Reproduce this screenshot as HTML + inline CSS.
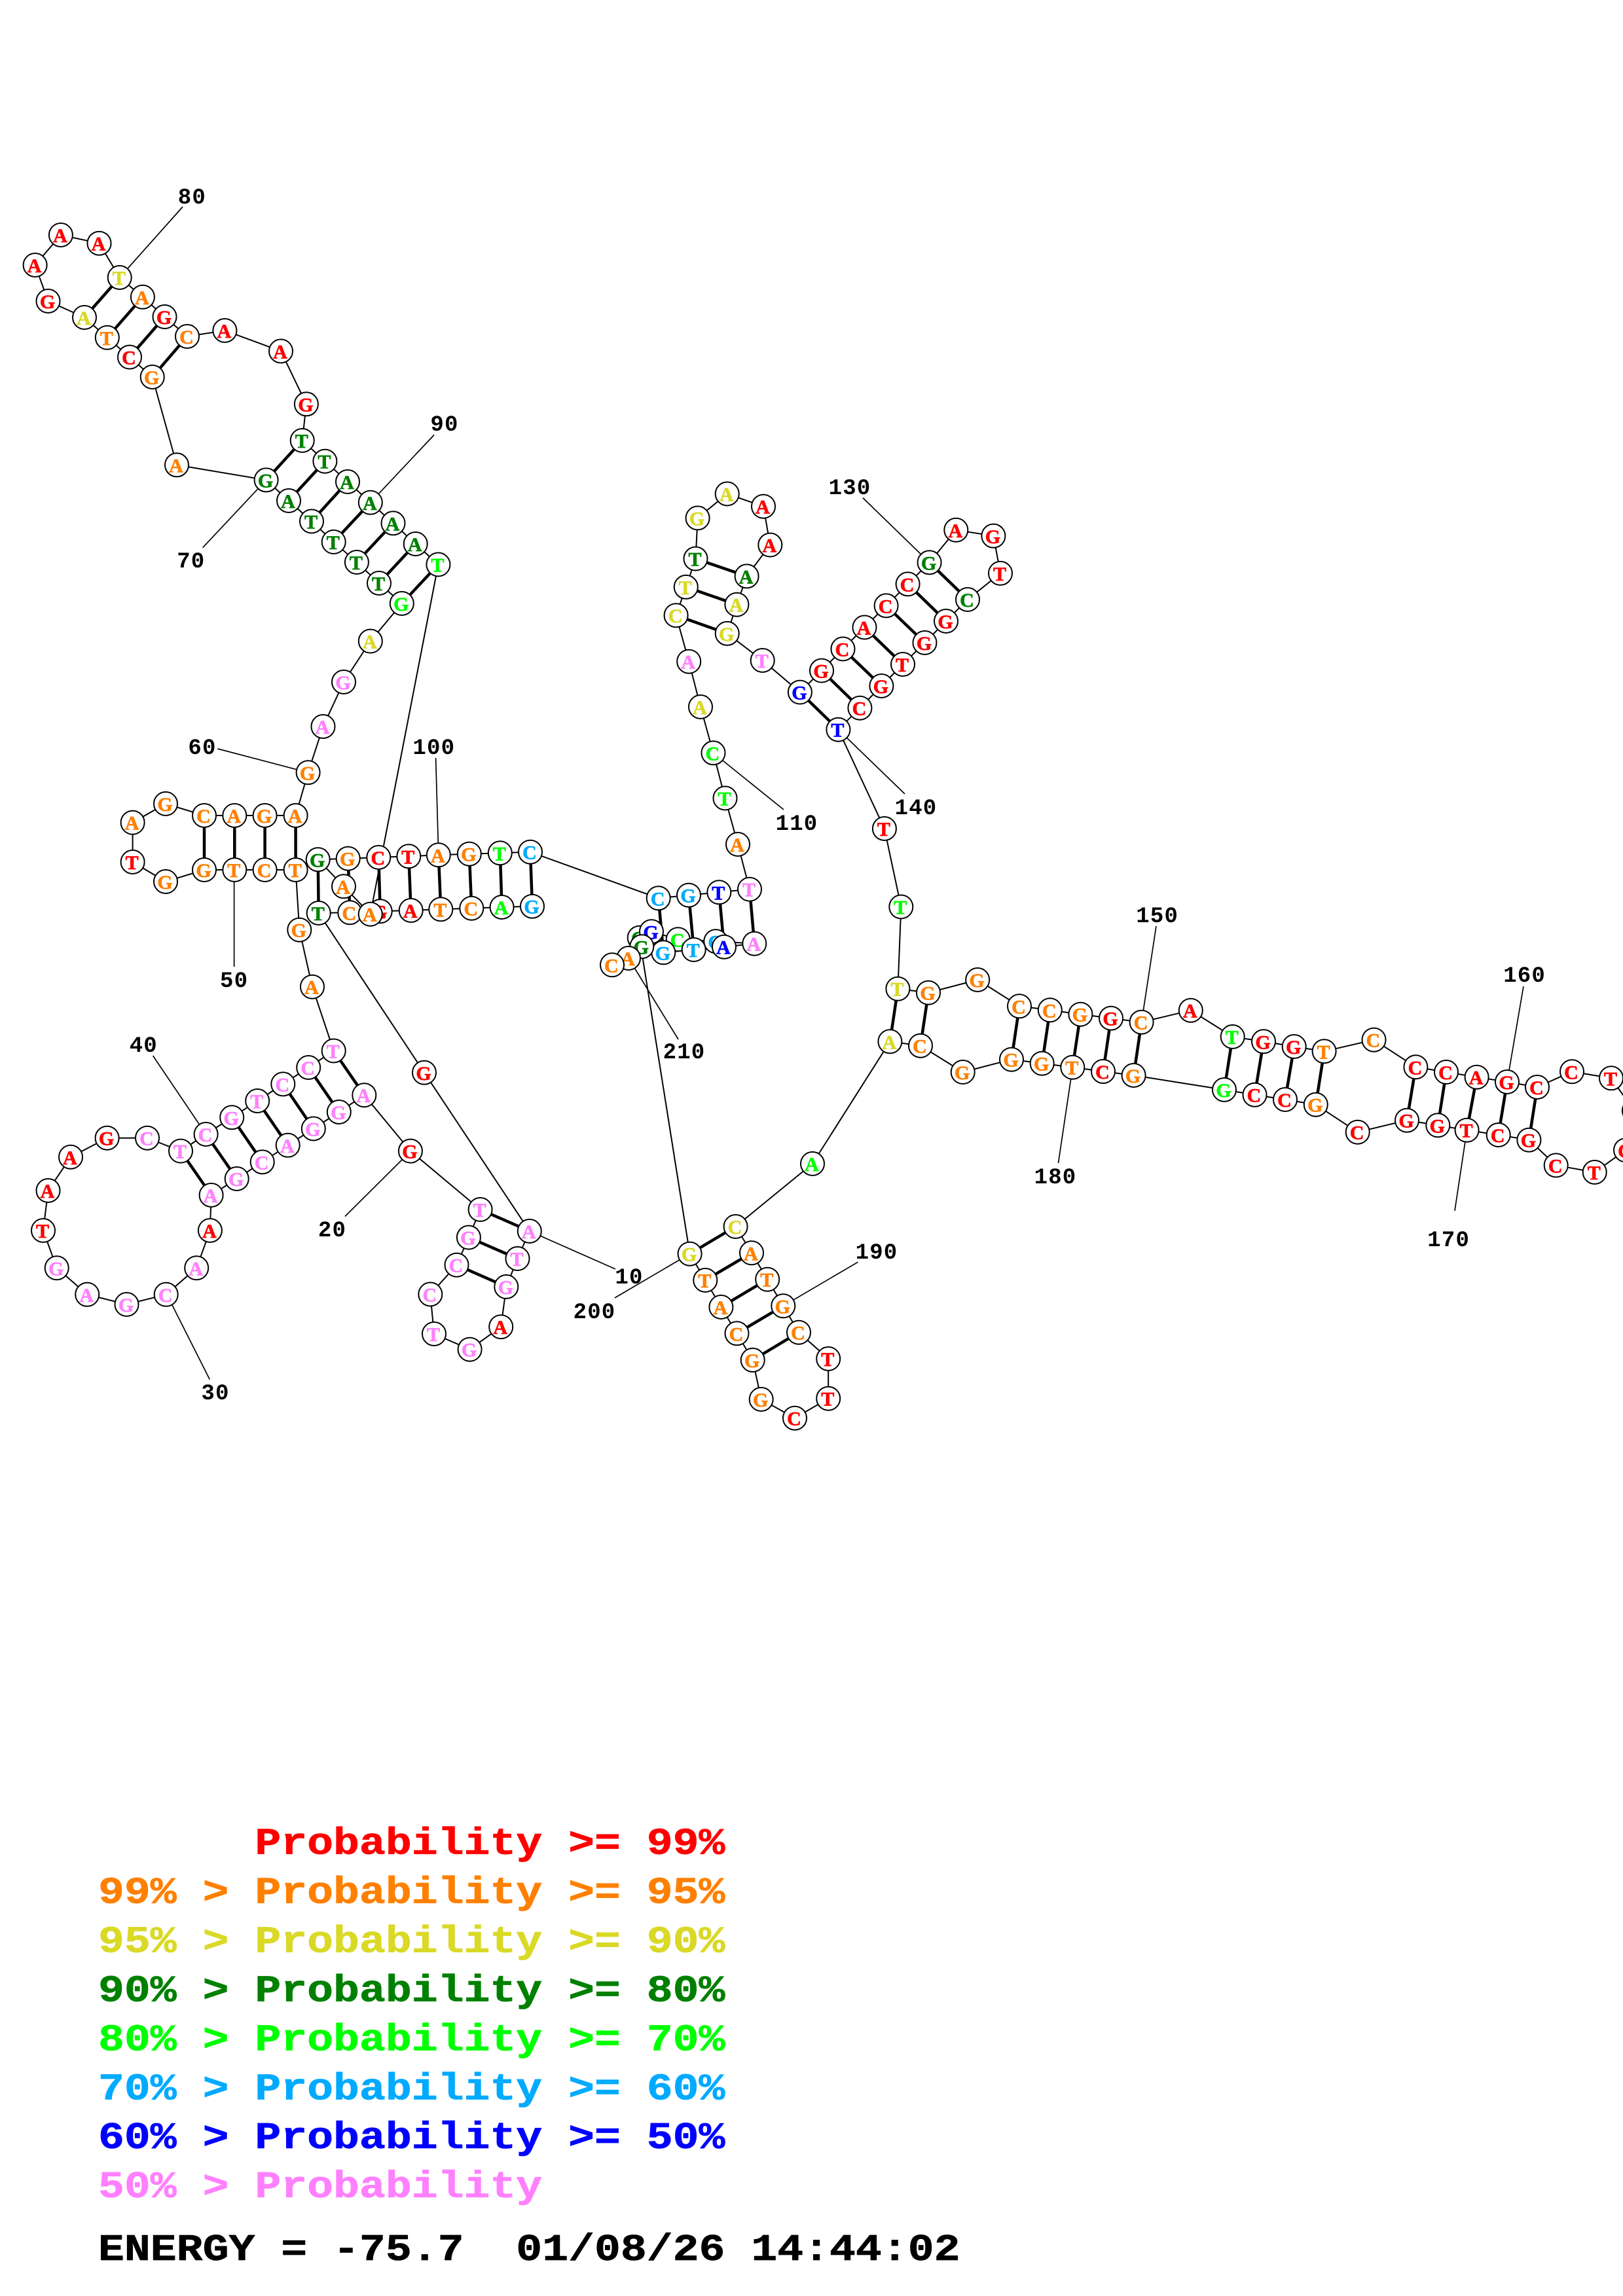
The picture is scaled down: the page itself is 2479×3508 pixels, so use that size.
<!DOCTYPE html>
<html><head><meta charset="utf-8"><style>
html,body{margin:0;padding:0;background:#fff}
svg{display:block}
.N circle{fill:#fff;stroke:#000;stroke-width:2}
.N text{font-family:"Liberation Serif",serif;font-weight:bold;font-size:30px;text-anchor:middle;stroke-width:.7px;transform:translate(-1px,11px)}
.r{fill:#f00;stroke:#f00}.o{fill:#ff8000;stroke:#ff8000}.y{fill:#d9d926;stroke:#d9d926}.d{fill:#008000;stroke:#008000}.g{fill:#0f0;stroke:#0f0}.l{fill:#00aaff;stroke:#00aaff}.b{fill:#00f;stroke:#00f}.p{fill:#ff80ff;stroke:#ff80ff}
.L text{font-family:"Liberation Mono",monospace;font-weight:bold;font-size:34px;letter-spacing:1.2px;text-anchor:middle;fill:#000}
.K text{font-family:"Liberation Mono",monospace;font-weight:bold;font-size:66.5px;white-space:pre;stroke-width:.8px}
</style></head><body>
<svg xmlns="http://www.w3.org/2000/svg" width="2479" height="3508" viewBox="0 0 2479 3508">
<rect width="2479" height="3508" fill="#fff"/>
<path fill="none" stroke="#000" stroke-width="4.5" d="M486.7 1395L485.7 1313.3M534.3 1394.3L531.7 1311.7M580.7 1392.3L578.3 1310M627.7 1391L624.3 1308.3M673.3 1389.3L669.8 1306.3M720.3 1387.7L716.8 1304.7M766.6 1386L763.8 1303.3M813 1384.7L810 1301.7M808.8 1881L733.6 1848M790.5 1923L715.9 1890.6M773.3 1966L697.5 1932.7M556.3 1673.2L509.7 1605.5M517.8 1699L471.2 1631M478.8 1724.5L432.3 1656.4M439.7 1749.8L393.2 1682M400.7 1775.4L354.2 1707.3M361.7 1801L314.6 1733M322.6 1826L276 1758.6M451.6 1329L451.6 1246M404.6 1329L404.6 1246M358.3 1329L358.3 1246M312 1329L312 1246M613.8 922L669.4 862.5M579 891L634.7 831M544.9 859L600.5 799.4M509.7 828L565.8 767.8M476 796.5L531 736M441 765L496.4 704.7M406.6 733.4L461.7 673M232.7 576L286 514M198 545.6L251.5 484M163.8 515.8L217.9 453.8M129 485L182.7 424M1005.7 1372.3L1013.3 1455.3M1052 1367.7L1059.7 1451M1098.3 1363.3L1106 1446.7M1145 1358.7L1152.3 1441.7M1032.6 940.2L1110.7 967.9M1047.8 896.9L1125.4 923.7M1062.5 853.6L1140.6 880.4M1221.9 1057.6L1280.4 1114.7M1255 1024.6L1313.4 1081.7M1287.5 991.5L1346.4 1048M1320.5 958.5L1379 1015M1353.6 925.4L1412.5 982M1386.6 892.4L1445 949M1419.6 859.4L1478 916M1371.4 1510.7L1359.4 1591.3M1418 1516.7L1406 1597.7M1557 1537.3L1545 1618.7M1603.8 1543.3L1591.7 1624.7M1650.4 1549.7L1638.3 1630.7M1697 1555.7L1685 1637M1743.6 1561.7L1731.6 1643M1882.7 1584L1870 1665M1930 1591.3L1916.5 1672.7M1976.7 1599L1963 1680M2022.6 1606.3L2009.8 1687.7M2162.4 1630.3L2149 1711.7M2209 1638L2196.3 1719.3M2255.6 1645.7L2240.6 1726.7M2302 1653L2288.7 1734M2348 1661L2335.4 1741.7M1123.6 1874L1053.6 1915.7M1148 1914.3L1077.3 1956M1172.2 1954.7L1101.4 1997M1196.3 1995.3L1125.5 2037.3M1220 2035.7L1149.7 2078"/>
<polyline fill="none" stroke="#000" stroke-width="2" points="813,1384.7 766.6,1386 720.3,1387.7 673.3,1389.3 627.7,1391 580.7,1392.3 534.3,1394.3 486.7,1395 648,1638.8 808.8,1881 790.5,1923 773.3,1966 765.2,2027.2 717.6,2061.7 663,2038 657.3,1977.5 697.5,1932.7 715.9,1890.6 733.6,1848 626.9,1758.6 556.3,1673.2 517.8,1699 478.8,1724.5 439.7,1749.8 400.7,1775.4 361.7,1801 322.6,1826 320.9,1880 300.2,1937.3 253.7,1977.8 193.5,1993 133.2,1977.8 86.7,1937.3 66,1880 73.5,1819 108,1767.8 163.6,1738.7 225,1738.7 276,1758.6 314.6,1733 354.2,1707.3 393.2,1682 432.3,1656.4 471.2,1631 509.7,1605.5 477,1507.7 457.3,1420.7 451.6,1329 404.6,1329 358.3,1329 312,1329 253,1347 202.6,1317 202.6,1256.7 253,1228 312,1246 358.3,1246 404.6,1246 451.6,1246 470.6,1180.3 493.5,1110 525,1042 565.8,979.6 613.8,922 579,891 544.9,859 509.7,828 476,796.5 441,765 406.6,733.4 270,710.4 232.7,576 198,545.6 163.8,515.8 129,485 73.5,460 53.6,405 92.9,359 151.5,371.7 182.7,424 217.9,453.8 251.5,484 286,514 343.4,505 429,536.5 467.9,617.4 461.7,673 496.4,704.7 531,736 565.8,767.8 600.5,799.4 634.7,831 669.4,862.5 565.7,1396.7 525,1354.3 485.7,1313.3 531.7,1311.7 578.3,1310 624.3,1308.3 669.8,1306.3 716.8,1304.7 763.8,1303.3 810,1301.7 1005.7,1372.3 1052,1367.7 1098.3,1363.3 1145,1358.7 1127,1290 1107.5,1219.5 1089.5,1150.4 1070,1080 1052.2,1010.7 1032.6,940.2 1047.8,896.9 1062.5,853.6 1065.6,791.5 1110.7,754.5 1166,773.7 1176.3,832.6 1140.6,880.4 1125.4,923.7 1110.7,967.9 1164.7,1009 1221.9,1057.6 1255,1024.6 1287.5,991.5 1320.5,958.5 1353.6,925.4 1386.6,892.4 1419.6,859.4 1460.3,809.8 1517.4,818.8 1528,875.9 1478,916 1445,949 1412.5,982 1379,1015 1346.4,1048 1313.4,1081.7 1280.4,1114.7 1350.9,1266 1376.3,1385.5 1371.4,1510.7 1418,1516.7 1493.2,1497 1557,1537.3 1603.8,1543.3 1650.4,1549.7 1697,1555.7 1743.6,1561.7 1818.8,1543.7 1882.7,1584 1930,1591.3 1976.7,1599 2022.6,1606.3 2098.5,1588.7 2162.4,1630.3 2209,1638 2255.6,1645.7 2302,1653 2348,1661 2401,1637.3 2461,1647.3 2496,1697 2483,1757.3 2435.7,1791 2376.7,1780.5 2335.4,1741.7 2288.7,1734 2240.6,1726.7 2196.3,1719.3 2149,1711.7 2073.7,1729.7 2009.8,1687.7 1963,1680 1916.5,1672.7 1870,1665 1731.6,1643 1685,1637 1638.3,1630.7 1591.7,1624.7 1545,1618.7 1470.7,1638 1406,1597.7 1359.4,1591.3 1241,1778 1123.6,1874 1148,1914.3 1172.2,1954.7 1196.3,1995.3 1220,2035.7 1265.2,2076 1265.2,2136.7 1214,2166.7 1162.7,2138 1149.7,2078 1125.5,2037.3 1101.4,1997 1077.3,1956 1053.6,1915.7 976.7,1432.7 995,1423.3 1035.7,1435.3 1093.3,1438.3 1152.3,1441.7 1106,1446.7 1059.7,1451 1013.3,1455.3 980.3,1446.3 960,1464 935,1474.3"/>
<path fill="none" stroke="#000" stroke-width="1.7" d="M940 1939L808.8 1881M614 1772L527 1858.5M263 1994L320.3 2107.6M233.6 1613L314.6 1733M357.6 1329L357.6 1477M332.4 1144L470.6 1180.3M406.6 733.4L309.7 836.7M279 316L182.7 424M663 664.5L565.8 767.8M665.6 1158L669.8 1306.3M1197 1237L1089.5 1150.4M1318 760.7L1419.6 859.4M1382 1213L1280.4 1114.7M1766 1415L1743.6 1561.7M2327 1507L2302 1653M2222 1850L2240.6 1726.7M1616.5 1777L1638.3 1630.7M1310.4 1928.3L1196.3 1995.3M939 1983L1053.6 1915.7M960 1464L1036 1588"/>
<g class="N">
<circle cx="813" cy="1384.7" r="18"/><text x="813" y="1384.7" class="l">G</text>
<circle cx="766.6" cy="1386" r="18"/><text x="766.6" y="1386" class="g">A</text>
<circle cx="720.3" cy="1387.7" r="18"/><text x="720.3" y="1387.7" class="o">C</text>
<circle cx="673.3" cy="1389.3" r="18"/><text x="673.3" y="1389.3" class="o">T</text>
<circle cx="627.7" cy="1391" r="18"/><text x="627.7" y="1391" class="r">A</text>
<circle cx="580.7" cy="1392.3" r="18"/><text x="580.7" y="1392.3" class="r">G</text>
<circle cx="534.3" cy="1394.3" r="18"/><text x="534.3" y="1394.3" class="o">C</text>
<circle cx="486.7" cy="1395" r="18"/><text x="486.7" y="1395" class="d">T</text>
<circle cx="648" cy="1638.8" r="18"/><text x="648" y="1638.8" class="r">G</text>
<circle cx="808.8" cy="1881" r="18"/><text x="808.8" y="1881" class="p">A</text>
<circle cx="790.5" cy="1923" r="18"/><text x="790.5" y="1923" class="p">T</text>
<circle cx="773.3" cy="1966" r="18"/><text x="773.3" y="1966" class="p">G</text>
<circle cx="765.2" cy="2027.2" r="18"/><text x="765.2" y="2027.2" class="r">A</text>
<circle cx="717.6" cy="2061.7" r="18"/><text x="717.6" y="2061.7" class="p">G</text>
<circle cx="663" cy="2038" r="18"/><text x="663" y="2038" class="p">T</text>
<circle cx="657.3" cy="1977.5" r="18"/><text x="657.3" y="1977.5" class="p">C</text>
<circle cx="697.5" cy="1932.7" r="18"/><text x="697.5" y="1932.7" class="p">C</text>
<circle cx="715.9" cy="1890.6" r="18"/><text x="715.9" y="1890.6" class="p">G</text>
<circle cx="733.6" cy="1848" r="18"/><text x="733.6" y="1848" class="p">T</text>
<circle cx="626.9" cy="1758.6" r="18"/><text x="626.9" y="1758.6" class="r">G</text>
<circle cx="556.3" cy="1673.2" r="18"/><text x="556.3" y="1673.2" class="p">A</text>
<circle cx="517.8" cy="1699" r="18"/><text x="517.8" y="1699" class="p">G</text>
<circle cx="478.8" cy="1724.5" r="18"/><text x="478.8" y="1724.5" class="p">G</text>
<circle cx="439.7" cy="1749.8" r="18"/><text x="439.7" y="1749.8" class="p">A</text>
<circle cx="400.7" cy="1775.4" r="18"/><text x="400.7" y="1775.4" class="p">C</text>
<circle cx="361.7" cy="1801" r="18"/><text x="361.7" y="1801" class="p">G</text>
<circle cx="322.6" cy="1826" r="18"/><text x="322.6" y="1826" class="p">A</text>
<circle cx="320.9" cy="1880" r="18"/><text x="320.9" y="1880" class="r">A</text>
<circle cx="300.2" cy="1937.3" r="18"/><text x="300.2" y="1937.3" class="p">A</text>
<circle cx="253.7" cy="1977.8" r="18"/><text x="253.7" y="1977.8" class="p">C</text>
<circle cx="193.5" cy="1993" r="18"/><text x="193.5" y="1993" class="p">G</text>
<circle cx="133.2" cy="1977.8" r="18"/><text x="133.2" y="1977.8" class="p">A</text>
<circle cx="86.7" cy="1937.3" r="18"/><text x="86.7" y="1937.3" class="p">G</text>
<circle cx="66" cy="1880" r="18"/><text x="66" y="1880" class="r">T</text>
<circle cx="73.5" cy="1819" r="18"/><text x="73.5" y="1819" class="r">A</text>
<circle cx="108" cy="1767.8" r="18"/><text x="108" y="1767.8" class="r">A</text>
<circle cx="163.6" cy="1738.7" r="18"/><text x="163.6" y="1738.7" class="r">G</text>
<circle cx="225" cy="1738.7" r="18"/><text x="225" y="1738.7" class="p">C</text>
<circle cx="276" cy="1758.6" r="18"/><text x="276" y="1758.6" class="p">T</text>
<circle cx="314.6" cy="1733" r="18"/><text x="314.6" y="1733" class="p">C</text>
<circle cx="354.2" cy="1707.3" r="18"/><text x="354.2" y="1707.3" class="p">G</text>
<circle cx="393.2" cy="1682" r="18"/><text x="393.2" y="1682" class="p">T</text>
<circle cx="432.3" cy="1656.4" r="18"/><text x="432.3" y="1656.4" class="p">C</text>
<circle cx="471.2" cy="1631" r="18"/><text x="471.2" y="1631" class="p">C</text>
<circle cx="509.7" cy="1605.5" r="18"/><text x="509.7" y="1605.5" class="p">T</text>
<circle cx="477" cy="1507.7" r="18"/><text x="477" y="1507.7" class="o">A</text>
<circle cx="457.3" cy="1420.7" r="18"/><text x="457.3" y="1420.7" class="o">G</text>
<circle cx="451.6" cy="1329" r="18"/><text x="451.6" y="1329" class="o">T</text>
<circle cx="404.6" cy="1329" r="18"/><text x="404.6" y="1329" class="o">C</text>
<circle cx="358.3" cy="1329" r="18"/><text x="358.3" y="1329" class="o">T</text>
<circle cx="312" cy="1329" r="18"/><text x="312" y="1329" class="o">G</text>
<circle cx="253" cy="1347" r="18"/><text x="253" y="1347" class="o">G</text>
<circle cx="202.6" cy="1317" r="18"/><text x="202.6" y="1317" class="r">T</text>
<circle cx="202.6" cy="1256.7" r="18"/><text x="202.6" y="1256.7" class="o">A</text>
<circle cx="253" cy="1228" r="18"/><text x="253" y="1228" class="o">G</text>
<circle cx="312" cy="1246" r="18"/><text x="312" y="1246" class="o">C</text>
<circle cx="358.3" cy="1246" r="18"/><text x="358.3" y="1246" class="o">A</text>
<circle cx="404.6" cy="1246" r="18"/><text x="404.6" y="1246" class="o">G</text>
<circle cx="451.6" cy="1246" r="18"/><text x="451.6" y="1246" class="o">A</text>
<circle cx="470.6" cy="1180.3" r="18"/><text x="470.6" y="1180.3" class="o">G</text>
<circle cx="493.5" cy="1110" r="18"/><text x="493.5" y="1110" class="p">A</text>
<circle cx="525" cy="1042" r="18"/><text x="525" y="1042" class="p">G</text>
<circle cx="565.8" cy="979.6" r="18"/><text x="565.8" y="979.6" class="y">A</text>
<circle cx="613.8" cy="922" r="18"/><text x="613.8" y="922" class="g">G</text>
<circle cx="579" cy="891" r="18"/><text x="579" y="891" class="d">T</text>
<circle cx="544.9" cy="859" r="18"/><text x="544.9" y="859" class="d">T</text>
<circle cx="509.7" cy="828" r="18"/><text x="509.7" y="828" class="d">T</text>
<circle cx="476" cy="796.5" r="18"/><text x="476" y="796.5" class="d">T</text>
<circle cx="441" cy="765" r="18"/><text x="441" y="765" class="d">A</text>
<circle cx="406.6" cy="733.4" r="18"/><text x="406.6" y="733.4" class="d">G</text>
<circle cx="270" cy="710.4" r="18"/><text x="270" y="710.4" class="o">A</text>
<circle cx="232.7" cy="576" r="18"/><text x="232.7" y="576" class="o">G</text>
<circle cx="198" cy="545.6" r="18"/><text x="198" y="545.6" class="r">C</text>
<circle cx="163.8" cy="515.8" r="18"/><text x="163.8" y="515.8" class="o">T</text>
<circle cx="129" cy="485" r="18"/><text x="129" y="485" class="y">A</text>
<circle cx="73.5" cy="460" r="18"/><text x="73.5" y="460" class="r">G</text>
<circle cx="53.6" cy="405" r="18"/><text x="53.6" y="405" class="r">A</text>
<circle cx="92.9" cy="359" r="18"/><text x="92.9" y="359" class="r">A</text>
<circle cx="151.5" cy="371.7" r="18"/><text x="151.5" y="371.7" class="r">A</text>
<circle cx="182.7" cy="424" r="18"/><text x="182.7" y="424" class="y">T</text>
<circle cx="217.9" cy="453.8" r="18"/><text x="217.9" y="453.8" class="o">A</text>
<circle cx="251.5" cy="484" r="18"/><text x="251.5" y="484" class="r">G</text>
<circle cx="286" cy="514" r="18"/><text x="286" y="514" class="o">C</text>
<circle cx="343.4" cy="505" r="18"/><text x="343.4" y="505" class="r">A</text>
<circle cx="429" cy="536.5" r="18"/><text x="429" y="536.5" class="r">A</text>
<circle cx="467.9" cy="617.4" r="18"/><text x="467.9" y="617.4" class="r">G</text>
<circle cx="461.7" cy="673" r="18"/><text x="461.7" y="673" class="d">T</text>
<circle cx="496.4" cy="704.7" r="18"/><text x="496.4" y="704.7" class="d">T</text>
<circle cx="531" cy="736" r="18"/><text x="531" y="736" class="d">A</text>
<circle cx="565.8" cy="767.8" r="18"/><text x="565.8" y="767.8" class="d">A</text>
<circle cx="600.5" cy="799.4" r="18"/><text x="600.5" y="799.4" class="d">A</text>
<circle cx="634.7" cy="831" r="18"/><text x="634.7" y="831" class="d">A</text>
<circle cx="669.4" cy="862.5" r="18"/><text x="669.4" y="862.5" class="g">T</text>
<circle cx="565.7" cy="1396.7" r="18"/><text x="565.7" y="1396.7" class="o">A</text>
<circle cx="525" cy="1354.3" r="18"/><text x="525" y="1354.3" class="o">A</text>
<circle cx="485.7" cy="1313.3" r="18"/><text x="485.7" y="1313.3" class="d">G</text>
<circle cx="531.7" cy="1311.7" r="18"/><text x="531.7" y="1311.7" class="o">G</text>
<circle cx="578.3" cy="1310" r="18"/><text x="578.3" y="1310" class="r">C</text>
<circle cx="624.3" cy="1308.3" r="18"/><text x="624.3" y="1308.3" class="r">T</text>
<circle cx="669.8" cy="1306.3" r="18"/><text x="669.8" y="1306.3" class="o">A</text>
<circle cx="716.8" cy="1304.7" r="18"/><text x="716.8" y="1304.7" class="o">G</text>
<circle cx="763.8" cy="1303.3" r="18"/><text x="763.8" y="1303.3" class="g">T</text>
<circle cx="810" cy="1301.7" r="18"/><text x="810" y="1301.7" class="l">C</text>
<circle cx="1005.7" cy="1372.3" r="18"/><text x="1005.7" y="1372.3" class="l">C</text>
<circle cx="1052" cy="1367.7" r="18"/><text x="1052" y="1367.7" class="l">G</text>
<circle cx="1098.3" cy="1363.3" r="18"/><text x="1098.3" y="1363.3" class="b">T</text>
<circle cx="1145" cy="1358.7" r="18"/><text x="1145" y="1358.7" class="p">T</text>
<circle cx="1127" cy="1290" r="18"/><text x="1127" y="1290" class="o">A</text>
<circle cx="1107.5" cy="1219.5" r="18"/><text x="1107.5" y="1219.5" class="g">T</text>
<circle cx="1089.5" cy="1150.4" r="18"/><text x="1089.5" y="1150.4" class="g">C</text>
<circle cx="1070" cy="1080" r="18"/><text x="1070" y="1080" class="y">A</text>
<circle cx="1052.2" cy="1010.7" r="18"/><text x="1052.2" y="1010.7" class="p">A</text>
<circle cx="1032.6" cy="940.2" r="18"/><text x="1032.6" y="940.2" class="y">C</text>
<circle cx="1047.8" cy="896.9" r="18"/><text x="1047.8" y="896.9" class="y">T</text>
<circle cx="1062.5" cy="853.6" r="18"/><text x="1062.5" y="853.6" class="d">T</text>
<circle cx="1065.6" cy="791.5" r="18"/><text x="1065.6" y="791.5" class="y">G</text>
<circle cx="1110.7" cy="754.5" r="18"/><text x="1110.7" y="754.5" class="y">A</text>
<circle cx="1166" cy="773.7" r="18"/><text x="1166" y="773.7" class="r">A</text>
<circle cx="1176.3" cy="832.6" r="18"/><text x="1176.3" y="832.6" class="r">A</text>
<circle cx="1140.6" cy="880.4" r="18"/><text x="1140.6" y="880.4" class="d">A</text>
<circle cx="1125.4" cy="923.7" r="18"/><text x="1125.4" y="923.7" class="y">A</text>
<circle cx="1110.7" cy="967.9" r="18"/><text x="1110.7" y="967.9" class="y">G</text>
<circle cx="1164.7" cy="1009" r="18"/><text x="1164.7" y="1009" class="p">T</text>
<circle cx="1221.9" cy="1057.6" r="18"/><text x="1221.9" y="1057.6" class="b">G</text>
<circle cx="1255" cy="1024.6" r="18"/><text x="1255" y="1024.6" class="r">G</text>
<circle cx="1287.5" cy="991.5" r="18"/><text x="1287.5" y="991.5" class="r">C</text>
<circle cx="1320.5" cy="958.5" r="18"/><text x="1320.5" y="958.5" class="r">A</text>
<circle cx="1353.6" cy="925.4" r="18"/><text x="1353.6" y="925.4" class="r">C</text>
<circle cx="1386.6" cy="892.4" r="18"/><text x="1386.6" y="892.4" class="r">C</text>
<circle cx="1419.6" cy="859.4" r="18"/><text x="1419.6" y="859.4" class="d">G</text>
<circle cx="1460.3" cy="809.8" r="18"/><text x="1460.3" y="809.8" class="r">A</text>
<circle cx="1517.4" cy="818.8" r="18"/><text x="1517.4" y="818.8" class="r">G</text>
<circle cx="1528" cy="875.9" r="18"/><text x="1528" y="875.9" class="r">T</text>
<circle cx="1478" cy="916" r="18"/><text x="1478" y="916" class="d">C</text>
<circle cx="1445" cy="949" r="18"/><text x="1445" y="949" class="r">G</text>
<circle cx="1412.5" cy="982" r="18"/><text x="1412.5" y="982" class="r">G</text>
<circle cx="1379" cy="1015" r="18"/><text x="1379" y="1015" class="r">T</text>
<circle cx="1346.4" cy="1048" r="18"/><text x="1346.4" y="1048" class="r">G</text>
<circle cx="1313.4" cy="1081.7" r="18"/><text x="1313.4" y="1081.7" class="r">C</text>
<circle cx="1280.4" cy="1114.7" r="18"/><text x="1280.4" y="1114.7" class="b">T</text>
<circle cx="1350.9" cy="1266" r="18"/><text x="1350.9" y="1266" class="r">T</text>
<circle cx="1376.3" cy="1385.5" r="18"/><text x="1376.3" y="1385.5" class="g">T</text>
<circle cx="1371.4" cy="1510.7" r="18"/><text x="1371.4" y="1510.7" class="y">T</text>
<circle cx="1418" cy="1516.7" r="18"/><text x="1418" y="1516.7" class="o">G</text>
<circle cx="1493.2" cy="1497" r="18"/><text x="1493.2" y="1497" class="o">G</text>
<circle cx="1557" cy="1537.3" r="18"/><text x="1557" y="1537.3" class="o">C</text>
<circle cx="1603.8" cy="1543.3" r="18"/><text x="1603.8" y="1543.3" class="o">C</text>
<circle cx="1650.4" cy="1549.7" r="18"/><text x="1650.4" y="1549.7" class="o">G</text>
<circle cx="1697" cy="1555.7" r="18"/><text x="1697" y="1555.7" class="r">G</text>
<circle cx="1743.6" cy="1561.7" r="18"/><text x="1743.6" y="1561.7" class="o">C</text>
<circle cx="1818.8" cy="1543.7" r="18"/><text x="1818.8" y="1543.7" class="r">A</text>
<circle cx="1882.7" cy="1584" r="18"/><text x="1882.7" y="1584" class="g">T</text>
<circle cx="1930" cy="1591.3" r="18"/><text x="1930" y="1591.3" class="r">G</text>
<circle cx="1976.7" cy="1599" r="18"/><text x="1976.7" y="1599" class="r">G</text>
<circle cx="2022.6" cy="1606.3" r="18"/><text x="2022.6" y="1606.3" class="o">T</text>
<circle cx="2098.5" cy="1588.7" r="18"/><text x="2098.5" y="1588.7" class="o">C</text>
<circle cx="2162.4" cy="1630.3" r="18"/><text x="2162.4" y="1630.3" class="r">C</text>
<circle cx="2209" cy="1638" r="18"/><text x="2209" y="1638" class="r">C</text>
<circle cx="2255.6" cy="1645.7" r="18"/><text x="2255.6" y="1645.7" class="r">A</text>
<circle cx="2302" cy="1653" r="18"/><text x="2302" y="1653" class="r">G</text>
<circle cx="2348" cy="1661" r="18"/><text x="2348" y="1661" class="r">C</text>
<circle cx="2401" cy="1637.3" r="18"/><text x="2401" y="1637.3" class="r">C</text>
<circle cx="2461" cy="1647.3" r="18"/><text x="2461" y="1647.3" class="r">T</text>
<circle cx="2496" cy="1697" r="18"/><text x="2496" y="1697" class="r">G</text>
<circle cx="2483" cy="1757.3" r="18"/><text x="2483" y="1757.3" class="r">C</text>
<circle cx="2435.7" cy="1791" r="18"/><text x="2435.7" y="1791" class="r">T</text>
<circle cx="2376.7" cy="1780.5" r="18"/><text x="2376.7" y="1780.5" class="r">C</text>
<circle cx="2335.4" cy="1741.7" r="18"/><text x="2335.4" y="1741.7" class="r">G</text>
<circle cx="2288.7" cy="1734" r="18"/><text x="2288.7" y="1734" class="r">C</text>
<circle cx="2240.6" cy="1726.7" r="18"/><text x="2240.6" y="1726.7" class="r">T</text>
<circle cx="2196.3" cy="1719.3" r="18"/><text x="2196.3" y="1719.3" class="r">G</text>
<circle cx="2149" cy="1711.7" r="18"/><text x="2149" y="1711.7" class="r">G</text>
<circle cx="2073.7" cy="1729.7" r="18"/><text x="2073.7" y="1729.7" class="r">C</text>
<circle cx="2009.8" cy="1687.7" r="18"/><text x="2009.8" y="1687.7" class="o">G</text>
<circle cx="1963" cy="1680" r="18"/><text x="1963" y="1680" class="r">C</text>
<circle cx="1916.5" cy="1672.7" r="18"/><text x="1916.5" y="1672.7" class="r">C</text>
<circle cx="1870" cy="1665" r="18"/><text x="1870" y="1665" class="g">G</text>
<circle cx="1731.6" cy="1643" r="18"/><text x="1731.6" y="1643" class="o">G</text>
<circle cx="1685" cy="1637" r="18"/><text x="1685" y="1637" class="r">C</text>
<circle cx="1638.3" cy="1630.7" r="18"/><text x="1638.3" y="1630.7" class="o">T</text>
<circle cx="1591.7" cy="1624.7" r="18"/><text x="1591.7" y="1624.7" class="o">G</text>
<circle cx="1545" cy="1618.7" r="18"/><text x="1545" y="1618.7" class="o">G</text>
<circle cx="1470.7" cy="1638" r="18"/><text x="1470.7" y="1638" class="o">G</text>
<circle cx="1406" cy="1597.7" r="18"/><text x="1406" y="1597.7" class="o">C</text>
<circle cx="1359.4" cy="1591.3" r="18"/><text x="1359.4" y="1591.3" class="y">A</text>
<circle cx="1241" cy="1778" r="18"/><text x="1241" y="1778" class="g">A</text>
<circle cx="1123.6" cy="1874" r="18"/><text x="1123.6" y="1874" class="y">C</text>
<circle cx="1148" cy="1914.3" r="18"/><text x="1148" y="1914.3" class="o">A</text>
<circle cx="1172.2" cy="1954.7" r="18"/><text x="1172.2" y="1954.7" class="o">T</text>
<circle cx="1196.3" cy="1995.3" r="18"/><text x="1196.3" y="1995.3" class="o">G</text>
<circle cx="1220" cy="2035.7" r="18"/><text x="1220" y="2035.7" class="o">C</text>
<circle cx="1265.2" cy="2076" r="18"/><text x="1265.2" y="2076" class="r">T</text>
<circle cx="1265.2" cy="2136.7" r="18"/><text x="1265.2" y="2136.7" class="r">T</text>
<circle cx="1214" cy="2166.7" r="18"/><text x="1214" y="2166.7" class="r">C</text>
<circle cx="1162.7" cy="2138" r="18"/><text x="1162.7" y="2138" class="o">G</text>
<circle cx="1149.7" cy="2078" r="18"/><text x="1149.7" y="2078" class="o">G</text>
<circle cx="1125.5" cy="2037.3" r="18"/><text x="1125.5" y="2037.3" class="o">C</text>
<circle cx="1101.4" cy="1997" r="18"/><text x="1101.4" y="1997" class="o">A</text>
<circle cx="1077.3" cy="1956" r="18"/><text x="1077.3" y="1956" class="o">T</text>
<circle cx="1053.6" cy="1915.7" r="18"/><text x="1053.6" y="1915.7" class="y">G</text>
<circle cx="976.7" cy="1432.7" r="18"/><text x="976.7" y="1432.7" class="d">G</text>
<circle cx="995" cy="1423.3" r="18"/><text x="995" y="1423.3" class="b">G</text>
<circle cx="1035.7" cy="1435.3" r="18"/><text x="1035.7" y="1435.3" class="g">C</text>
<circle cx="1093.3" cy="1438.3" r="18"/><text x="1093.3" y="1438.3" class="l">C</text>
<circle cx="1152.3" cy="1441.7" r="18"/><text x="1152.3" y="1441.7" class="p">A</text>
<circle cx="1106" cy="1446.7" r="18"/><text x="1106" y="1446.7" class="b">A</text>
<circle cx="1059.7" cy="1451" r="18"/><text x="1059.7" y="1451" class="l">T</text>
<circle cx="1013.3" cy="1455.3" r="18"/><text x="1013.3" y="1455.3" class="l">G</text>
<circle cx="980.3" cy="1446.3" r="18"/><text x="980.3" y="1446.3" class="d">G</text>
<circle cx="960" cy="1464" r="18"/><text x="960" y="1464" class="o">A</text>
<circle cx="935" cy="1474.3" r="18"/><text x="935" y="1474.3" class="o">C</text>
</g>
<g class="L">
<text x="961" y="1961">10</text>
<text x="507.5" y="1889">20</text>
<text x="329" y="2138">30</text>
<text x="219.3" y="1607">40</text>
<text x="357.6" y="1508">50</text>
<text x="309" y="1152">60</text>
<text x="291.8" y="867">70</text>
<text x="293.4" y="311">80</text>
<text x="679" y="658">90</text>
<text x="662.8" y="1152">100</text>
<text x="1217" y="1268">110</text>
<text x="1298" y="755">130</text>
<text x="1399" y="1244">140</text>
<text x="1767.7" y="1409">150</text>
<text x="2328.6" y="1500">160</text>
<text x="2212.7" y="1904">170</text>
<text x="1612" y="1808">180</text>
<text x="1339" y="1923">190</text>
<text x="908" y="2014">200</text>
<text x="1045" y="1617">210</text>
</g>
<g class="K">
<text transform="translate(150 2832.7) scale(1 .86)" class="r" xml:space="preserve">      Probability &gt;= 99%</text>
<text transform="translate(150 2907.7) scale(1 .86)" class="o" xml:space="preserve">99% &gt; Probability &gt;= 95%</text>
<text transform="translate(150 2982.6) scale(1 .86)" class="y" xml:space="preserve">95% &gt; Probability &gt;= 90%</text>
<text transform="translate(150 3057.5) scale(1 .86)" class="d" xml:space="preserve">90% &gt; Probability &gt;= 80%</text>
<text transform="translate(150 3132.4) scale(1 .86)" class="g" xml:space="preserve">80% &gt; Probability &gt;= 70%</text>
<text transform="translate(150 3207.3) scale(1 .86)" class="l" xml:space="preserve">70% &gt; Probability &gt;= 60%</text>
<text transform="translate(150 3282.2) scale(1 .86)" class="b" xml:space="preserve">60% &gt; Probability &gt;= 50%</text>
<text transform="translate(150 3357.1) scale(1 .86)" class="p" xml:space="preserve">50% &gt; Probability</text>
<text transform="translate(150 3453) scale(1 .86)" fill="#000" stroke="#000" xml:space="preserve">ENERGY = -75.7  01/08/26 14:44:02</text>
</g>
</svg>
</body></html>
